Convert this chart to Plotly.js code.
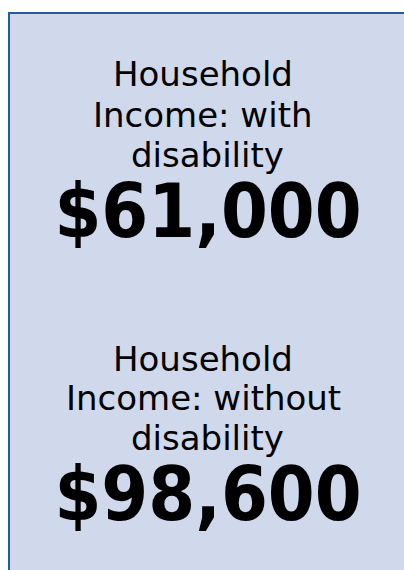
<!DOCTYPE html>
<html>
<head>
<meta charset="utf-8">
<script src="https://cdn.plot.ly/plotly-3.0.1.min.js"></script>
<style>html,body{margin:0;padding:0;background:#fff;}#chart{width:404px;height:570px;}</style>
</head>
<body>
<div id="chart"></div>
<script>
// Data
const labelLines = [
  ["Household", "Income: with", "disability"],
  ["Household", "Income: without", "disability"]
];
const values = [61000, 98600];
const prefix = "$";

// Layout constants
const W = 404, H = 570;
const domainsY = [[0.5107, 0.7507], [0.0142, 0.2542]];
const labelLineMidPx = [[74, 115, 155], [358.5, 398, 437.5]];
const labelLineXPx = [203, 203, 207];
const FONT = "DejaVu Sans, Verdana, sans-serif";
const NUMFONT = "DejaVu Sans Condensed, DejaVu Sans, sans-serif";

const traces = values.map((v, i) => ({
  type: "indicator",
  mode: "number",
  value: v,
  number: {prefix: prefix, valueformat: ",.0f", font: {family: NUMFONT, size: 75, weight: "bold", color: "#000"}},
  domain: {x: [0.03, 1], y: domainsY[i]}
}));

const annotations = [];
labelLines.forEach((lines, i) => {
  lines.forEach((t, j) => {
    annotations.push({
      xref: "paper", yref: "paper", x: labelLineXPx[j] / W, y: 1 - labelLineMidPx[i][j] / H,
      xanchor: "center", yanchor: "middle", showarrow: false, text: t,
      font: {family: FONT, size: 34, color: "#000"}
    });
  });
});

const layout = {
  width: W, height: H,
  margin: {l: 0, r: 0, t: 0, b: 0},
  paper_bgcolor: "#ffffff",
  showlegend: false,
  annotations: annotations,
  shapes: [{
    type: "rect", xref: "paper", yref: "paper", layer: "below",
    x0: 9 / W, x1: 1.05, y0: -0.05, y1: 1 - 13 / H,
    fillcolor: "#d0d8eb", line: {color: "#1f5ba6", width: 2}
  }]
};

Plotly.newPlot("chart", traces, layout, {displayModeBar: false, staticPlot: true});
</script>
</body>
</html>
